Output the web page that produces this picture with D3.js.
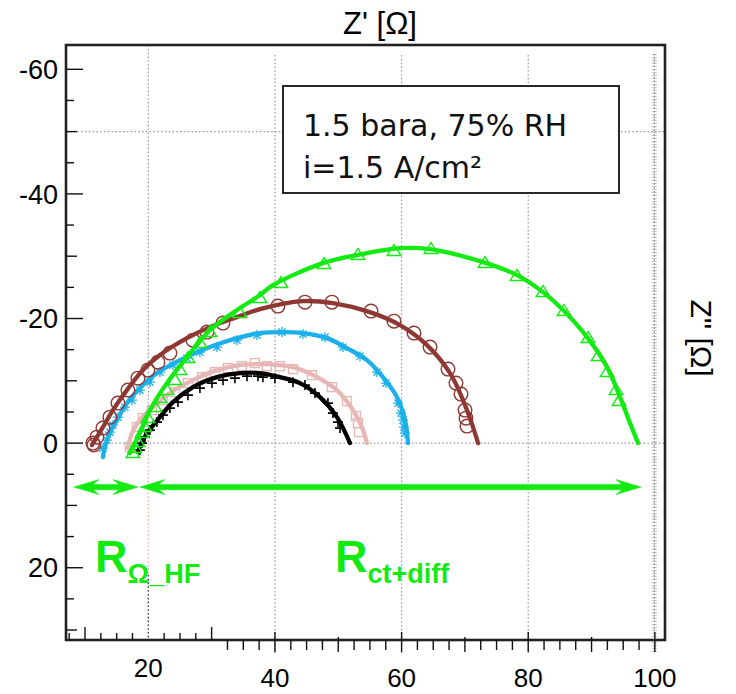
<!DOCTYPE html>
<html><head><meta charset="utf-8">
<script src="https://cdn.jsdelivr.net/npm/d3@7"></script>
<style>body{margin:0;background:#fff}svg{display:block}</style>
</head><body>
<svg id="c" width="736" height="694"></svg>
<script>
// ---------- data ----------
const xTickValues = [20, 40, 60, 80, 100];
const yTickValues = [-60, -40, -20, 0, 20];
const legendLines = ["1.5 bara, 75% RH", "i=1.5 A/cm²"];

const blackFit = [[18.36,1.44],[18.99,-0.16],[19.94,-1.77],[21.83,-4.17],[23.89,-6.58],[27.05,-8.99],[30.84,-10.59],[34.47,-11.24],[37.63,-11.24],[40.79,-10.59],[43.95,-9.63],[47.11,-7.38],[49.79,-4.17],[51.85,0]];
const blackPts = [[18.67,1.12],[18.99,0],[19.46,-0.96],[20.25,-2.09],[21.36,-3.37],[22.31,-4.49],[23.41,-5.62],[24.68,-6.58],[26.26,-7.7],[28.15,-8.83],[30.05,-9.63],[31.79,-10.11],[33.68,-10.43],[35.58,-10.75],[37.31,-10.75],[38.1,-10.59],[40.0,-10.43],[42.84,-9.79],[44.74,-9.31],[46.32,-8.03],[48.37,-6.42],[49.16,-4.82],[49.95,-3.37],[50.27,-2.41]];

const pinkFit = [[16.78,0.8],[17.41,-1.6],[18.67,-3.69],[20.73,-5.78],[23.41,-8.03],[27.05,-10.11],[30.84,-11.72],[34.47,-12.52],[37.63,-12.68],[42.84,-12.2],[46.63,-10.59],[49.79,-8.51],[52.32,-5.3],[53.74,-2.57],[54.53,0]];
const pinkPts = [[17.09,0.64],[18.2,-2.57],[19.15,-4.01],[20.57,-5.3],[22.31,-6.9],[24.2,-8.19],[26.26,-9.63],[28.47,-10.59],[30.52,-11.4],[32.58,-12.04],[34.79,-12.36],[36.84,-12.84],[38.74,-12.36],[40.79,-12.36],[42.84,-11.88],[45.85,-10.91],[49.0,-8.99],[51.37,-6.74],[52.8,-4.33],[53.11,-3.21],[53.27,-1.77]];

const blueFit = [[12.83,2.25],[13.14,0.64],[13.93,-1.6],[15.04,-3.69],[16.62,-6.42],[18.67,-8.83],[21.36,-11.24],[24.99,-13.32],[29.73,-15.41],[34.0,-16.85],[37.63,-17.66],[41.26,-17.82],[44.42,-17.66],[48.21,-16.85],[51.37,-15.25],[54.53,-13.32],[57.06,-10.59],[59.27,-7.38],[60.54,-3.69],[61.01,0]];
const bluePts = [[12.83,0.8],[13.46,-0.48],[13.93,-1.77],[14.41,-2.89],[15.2,-4.17],[16.3,-5.78],[17.41,-6.9],[18.67,-8.51],[20.25,-9.79],[21.83,-11.4],[23.89,-12.52],[26.1,-13.64],[28.15,-14.61],[30.84,-15.41],[34.0,-16.53],[37.16,-17.34],[41.11,-17.82],[44.42,-17.5],[47.9,-17.01],[50.74,-15.41],[53.43,-13.96],[56.11,-11.4],[57.54,-9.63],[59.43,-6.42],[59.91,-4.82],[60.22,-3.69],[60.38,-2.57],[60.54,-1.6]];

const brownFit = [[11.09,0.32],[12.83,-2.57],[14.41,-5.3],[16.62,-8.51],[19.15,-11.72],[21.83,-14.13],[26.1,-16.85],[29.73,-18.62],[34.0,-20.22],[37.63,-21.51],[44.42,-22.79],[49.16,-22.47],[55.0,-21.03],[59.75,-18.94],[64.01,-15.73],[67.65,-11.24],[69.7,-6.9],[71.28,-2.57],[72.07,0]];
const brownPts = [[11.25,0],[11.4,0.3],[11.88,-0.96],[12.83,-2.41],[13.93,-4.17],[15.2,-6.42],[16.78,-8.51],[18.36,-10.43],[19.94,-11.72],[21.52,-13.0],[23.41,-14.45],[27.05,-16.53],[29.26,-17.82],[31.79,-19.26],[40.47,-21.99],[44.74,-22.63],[49.0,-22.63],[55.17,-21.19],[58.8,-19.58],[61.96,-17.66],[64.49,-15.41],[67.33,-11.88],[68.59,-9.63],[69.38,-7.87],[70.02,-5.3],[70.17,-4.01],[70.33,-2.73]];

const greenFit = [[17.09,1.61],[18.67,-1.6],[20.25,-5.3],[22.94,-9.63],[26.1,-13.8],[29.73,-18.14],[34.0,-21.35],[37.63,-23.76],[39.68,-25.36],[47.58,-28.89],[52.95,-30.18],[59.75,-31.3],[64.49,-31.14],[72.86,-29.05],[78.23,-26.97],[82.34,-24.24],[85.5,-21.35],[89.29,-17.01],[92.45,-12.2],[94.5,-7.38],[96.08,-3.21],[97.35,0]];
const greenPts = [[17.57,1.61],[17.88,0.8],[18.36,-0.16],[18.99,-1.6],[19.46,-2.57],[19.94,-4.01],[21.04,-5.78],[21.83,-7.22],[22.94,-8.51],[24.2,-10.11],[24.99,-11.72],[26.26,-13.64],[28.15,-16.05],[29.73,-17.82],[34.47,-20.87],[37.63,-23.27],[40.95,-25.68],[47.74,-28.73],[53.11,-30.18],[58.8,-30.82],[64.64,-31.14],[73.18,-28.89],[78.23,-26.81],[82.34,-24.24],[85.66,-21.19],[89.45,-16.85],[91.03,-13.96],[92.45,-11.4],[93.87,-8.51],[94.34,-6.74]];

// annotation arrows [x1, x2, y] in data units
const arrowROhm = [8.25, 18.36, 7.06];
const arrowRct = [18.67, 97.8, 7.06];

// ---------- setup ----------
const svg = d3.select("#c");
const L = 66, R = 665, T = 45, B = 640;
const x = d3.scaleLinear().domain([7, 101.6]).range([L, R]);
const y = d3.scaleLinear().domain([-63.9, 31.6]).range([T, B]);
const GREEN = "#12ea12";

svg.append("defs").append("clipPath").attr("id","clip")
  .append("rect").attr("x",L).attr("y",T).attr("width",R-L).attr("height",B-T);

// ---------- grid ----------
const grid = svg.append("g");
function dl(g, x1,y1,x2,y2, col) {
  return g.append("line").attr("x1",x1).attr("y1",y1).attr("x2",x2).attr("y2",y2)
    .attr("stroke", col || "#9a9a9a").attr("stroke-width",1.2).attr("stroke-dasharray","1.6 2.2");
}
[-50, 0].forEach(v => dl(grid, L, y(v), R, y(v)));
dl(grid, x(20), T, x(20), y(0));
dl(grid, x(20), y(0), x(20), 575, "#e8a8a8");
dl(grid, x(20), 575, x(20), B, "#222");
[40, 60, 80].forEach(v => dl(grid, x(v), 55, x(v), 653));
grid.append("line").attr("x1",x(100)-0.5).attr("x2",x(100)-0.5).attr("y1",54).attr("y2",653)
  .attr("stroke","#c4c4c4").attr("stroke-width",5).attr("stroke-dasharray","1 2");
dl(grid, x(100)-0.5, 54, x(100)-0.5, 653, "#8a8a8a");

// ---------- frame ----------
svg.append("rect").attr("x",L).attr("y",T).attr("width",R-L).attr("height",B-T)
  .attr("fill","none").attr("stroke","#222").attr("stroke-width",2.6);

// ---------- axis ticks ----------
const ax = svg.append("g").attr("stroke","#111").attr("stroke-width",1.4);
d3.range(-60, 31, 5).forEach(v => {
  const len = v % 20 === 0 ? 17 : (v % 10 === 0 ? 11 : 8);
  ax.append("line").attr("x1",L).attr("x2",L+len).attr("y1",y(v)).attr("y2",y(v));
});
d3.range(7.5, 30.1, 2.5).forEach(v => {
  if (v === 20) return;
  const len = (v === 10 || v === 30) ? 13 : 7;
  ax.append("line").attr("x1",x(v)).attr("x2",x(v)).attr("y1",B).attr("y2",B-len);
});
d3.range(32.5, 100.1, 2.5).forEach(v => {
  let y1 = B, y2 = B+10;
  if (v % 20 === 0) { y1 = B-8; y2 = B+12; }
  else if (v % 10 === 0) { y1 = B-3; y2 = B+12; }
  ax.append("line").attr("x1",x(v)).attr("x2",x(v)).attr("y1",y1).attr("y2",y2);
});

// tick labels
const tf = "'Liberation Sans', Arial, sans-serif";
svg.append("g").selectAll("text").data(yTickValues).join("text")
  .attr("x", 58).attr("y", d => y(d)).attr("dy","0.36em")
  .attr("text-anchor","end").attr("font-family",tf).attr("font-size",27).attr("fill","#000")
  .text(d => d);
svg.append("g").selectAll("text").data(xTickValues).join("text")
  .attr("x", d => x(d)).attr("y", d => d === 20 ? 677 : 687)
  .attr("text-anchor","middle").attr("font-family",tf).attr("font-size",26).attr("fill","#000")
  .text(d => d);

// axis titles
svg.append("text").attr("x",380).attr("y",34).attr("text-anchor","middle")
  .attr("font-family",tf).attr("font-size",31).text("Z' [Ω]");
svg.append("text").attr("transform","translate(691,338) rotate(90)").attr("text-anchor","middle")
  .attr("font-family",tf).attr("font-size",30).text("Z'' [Ω]");

// ---------- legend box ----------
svg.append("rect").attr("x",283).attr("y",86).attr("width",336).attr("height",107)
  .attr("fill","#fff").attr("stroke","#111").attr("stroke-width",1.8);
svg.append("g").selectAll("text").data(legendLines).join("text")
  .attr("x",303).attr("y",(d,i)=> 136 + i*42)
  .attr("font-family","'DejaVu Sans', sans-serif").attr("font-size",30).attr("fill","#111")
  .text(d => d);

// ---------- series ----------
const plot = svg.append("g").attr("clip-path","url(#clip)");
const line = d3.line().x(d => x(d[0])).y(d => y(d[1])).curve(d3.curveCatmullRom.alpha(0.5));

function marker(g, type, col, px, py) {
  const s = 5;
  if (type === "plus") {
    g.append("path").attr("d",`M${px-s},${py}H${px+s}M${px},${py-s}V${py+s}`).attr("stroke",col).attr("stroke-width",1.6).attr("fill","none");
  } else if (type === "square") {
    g.append("rect").attr("x",px-4.5).attr("y",py-4.5).attr("width",9).attr("height",9).attr("stroke",col).attr("stroke-width",1.4).attr("fill","none");
  } else if (type === "star") {
    const d = s*0.72;
    g.append("path").attr("d",`M${px-s},${py}H${px+s}M${px},${py-s}V${py+s}M${px-d},${py-d}L${px+d},${py+d}M${px-d},${py+d}L${px+d},${py-d}`).attr("stroke",col).attr("stroke-width",1.3).attr("fill","none");
  } else if (type === "circle") {
    g.append("circle").attr("cx",px).attr("cy",py).attr("r",6.8).attr("stroke",col).attr("stroke-width",1.4).attr("fill","none");
  } else if (type === "tri") {
    const h = 11, w = 6.8;
    g.append("path").attr("d",`M${px},${py-h*0.6}L${px+w},${py+h*0.4}L${px-w},${py+h*0.4}Z`).attr("stroke",col).attr("stroke-width",1.4).attr("fill","none");
  }
}

const series = [
  {fit: pinkFit, pts: pinkPts, col: "#e6b7b4", m: "square"},
  {fit: blackFit, pts: blackPts, col: "#000000", m: "plus"},
  {fit: blueFit, pts: bluePts, col: "#1cb0ea", m: "star"},
  {fit: brownFit, pts: brownPts, col: "#8e3833", m: "circle"},
  {fit: greenFit, pts: greenPts, col: GREEN, m: "tri"}
];
series.forEach(s => {
  const g = plot.append("g");
  s.pts.forEach(p => marker(g, s.m, s.col, x(p[0]), y(p[1])));
  g.append("path").attr("d", line(s.fit)).attr("fill","none").attr("stroke",s.col).attr("stroke-width",4.3).attr("stroke-linecap","round");
});

// ---------- arrows ----------
function dblArrow(a) {
  const x1 = x(a[0]), x2 = x(a[1]), yy = y(a[2]);
  const len = 25, hw = 7.5, sw = 2.7, notch = 6;
  const d = `M${x1},${yy}L${x1+len},${yy-hw}L${x1+len-notch},${yy-sw}L${x2-len+notch},${yy-sw}L${x2-len},${yy-hw}L${x2},${yy}`+
            `L${x2-len},${yy+hw}L${x2-len+notch},${yy+sw}L${x1+len-notch},${yy+sw}L${x1+len},${yy+hw}Z`;
  svg.append("path").attr("d",d).attr("fill",GREEN).attr("stroke",GREEN).attr("stroke-width",0.6);
}
dblArrow(arrowROhm);
dblArrow(arrowRct);

// ---------- labels ----------
function rLabel(px, sub) {
  const t = svg.append("text").attr("x",px).attr("y",572).attr("fill",GREEN)
    .attr("font-family","'Liberation Sans', Arial, sans-serif").attr("font-weight","bold");
  t.append("tspan").attr("font-size",45).text("R");
  t.append("tspan").attr("font-size",27).attr("dy",11).text(sub);
}
rLabel(95, "Ω_HF");
rLabel(335, "ct+diff");
</script>
</body></html>
